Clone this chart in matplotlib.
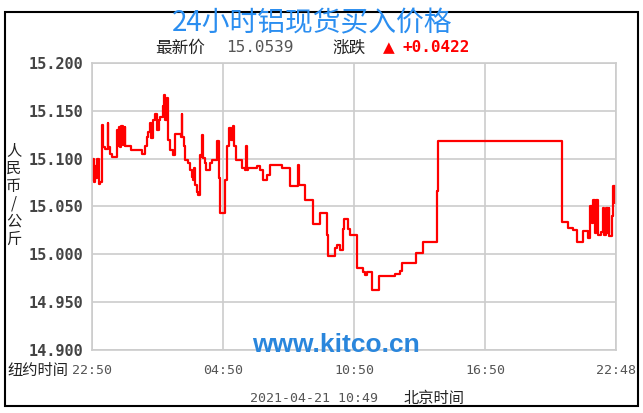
import matplotlib
matplotlib.use("Agg")
import matplotlib.pyplot as plt
from matplotlib.patches import Rectangle

plt.rcParams['font.family'] = ['Noto Sans CJK SC', 'DejaVu Sans']

# hours since 22:50 New York time, and price (yuan / kg)
hours = [0.00, 0.05, 0.10, 0.15, 0.20, 0.25, 0.30, 0.38, 0.44, 0.47,
         0.50, 0.60, 0.72, 0.75, 0.82, 0.92, 1.13, 1.18, 1.22, 1.28,
         1.34, 1.40, 1.50, 1.52, 1.60, 1.80, 2.27, 2.42, 2.50, 2.58,
         2.65, 2.72, 2.80, 2.89, 2.96, 3.05, 3.12, 3.24, 3.30, 3.36,
         3.42, 3.50, 3.55, 3.72, 3.80, 4.08, 4.11, 4.14, 4.20, 4.28,
         4.40, 4.50, 4.56, 4.62, 4.66, 4.70, 4.80, 4.87, 4.94, 5.03,
         5.05, 5.10, 5.17, 5.22, 5.40, 5.50, 5.73, 5.80, 5.84, 6.05,
         6.10, 6.18, 6.28, 6.38, 6.44, 6.50, 6.58, 6.88, 7.03, 7.05,
         7.10, 7.15, 7.55, 7.70, 7.85, 8.03, 8.15, 8.70, 9.07, 9.45,
         9.50, 9.76, 10.14, 10.44, 10.75, 10.82, 11.13, 11.20, 11.36, 11.51,
         11.54, 11.74, 11.82, 12.12, 12.43, 12.50, 12.58, 12.81, 13.16, 13.87,
         14.11, 14.18, 14.84, 15.18, 15.79, 15.86, 21.51, 21.82, 22.05, 22.20,
         22.50, 22.73, 22.80, 22.89, 22.95, 23.04, 23.10, 23.19, 23.30, 23.40,
         23.45, 23.56, 23.62, 23.66, 23.70, 23.80, 23.88, 23.95, 24.00]
prices = [15.078, 15.100, 15.076, 15.092, 15.080, 15.100, 15.074, 15.076, 15.128, 15.135,
          15.112, 15.110, 15.137, 15.112, 15.105, 15.102, 15.130, 15.113, 15.133, 15.112,
          15.134, 15.114, 15.133, 15.113, 15.113, 15.109, 15.105, 15.113, 15.123, 15.128,
          15.137, 15.122, 15.140, 15.147, 15.130, 15.140, 15.144, 15.155, 15.167, 15.140,
          15.163, 15.120, 15.109, 15.104, 15.126, 15.123, 15.147, 15.123, 15.113, 15.099,
          15.095, 15.088, 15.081, 15.078, 15.090, 15.072, 15.065, 15.062, 15.104, 15.102,
          15.125, 15.101, 15.095, 15.088, 15.095, 15.099, 15.118, 15.080, 15.043, 15.043,
          15.078, 15.113, 15.132, 15.120, 15.134, 15.113, 15.099, 15.090, 15.088, 15.113,
          15.088, 15.090, 15.092, 15.088, 15.078, 15.083, 15.093, 15.090, 15.071, 15.093,
          15.072, 15.057, 15.032, 15.043, 15.020, 14.998, 15.007, 15.010, 15.005, 15.027,
          15.037, 15.027, 15.020, 14.986, 14.982, 14.978, 14.982, 14.963, 14.977, 14.979,
          14.983, 14.991, 15.001, 15.013, 15.066, 15.118, 15.034, 15.028, 15.025, 15.013,
          15.024, 15.017, 15.051, 15.033, 15.057, 15.022, 15.057, 15.020, 15.023, 15.048,
          15.020, 15.048, 15.022, 15.048, 15.019, 15.040, 15.071, 15.054, 15.054]

x_ticks = [0, 6, 12, 18, 24]
x_labels = ['22:50', '04:50', '10:50', '16:50', '22:48']
y_ticks = [14.90, 14.95, 15.00, 15.05, 15.10, 15.15, 15.20]
y_labels = ['14.900', '14.950', '15.000', '15.050', '15.100', '15.150', '15.200']

title = '24小时铝现货买入价格'
latest = '15.0539'
change = '+0.0422'

fig = plt.figure(figsize=(6.43, 4.13), dpi=100)
ax = fig.add_axes([92/643, 1-350/413, 524/643, 287/413])

ax.plot(hours, prices, color='#ff0000', linewidth=1.6, drawstyle='steps-post')
ax.set_xlim(0, 24)
ax.set_ylim(14.9, 15.2)
ax.set_xticks(x_ticks)
ax.set_xticklabels(x_labels, family='DejaVu Sans Mono', fontsize=9.5, color='#555555')
ax.set_yticks(y_ticks)
ax.set_yticklabels(y_labels, family='DejaVu Sans Mono', fontsize=11, fontweight='bold', color='#444444')
ax.tick_params(length=0)
ax.tick_params(axis='y', pad=6)
ax.tick_params(axis='x', pad=10)
ax.grid(True, color='#cccccc', linewidth=1.2)
for s in ax.spines.values():
    s.set_color('#cccccc')
    s.set_linewidth(1.2)

# header
fig.text(312/643, 1-23/413, title, ha='center', va='center', fontsize=20, color='#2b8ef0')
fig.text(180/643, 1-48/413, '最新价', ha='center', va='center', fontsize=12, color='#222222')
fig.text(260/643, 1-48/413, latest, ha='center', va='center', fontsize=11.5,
         family='DejaVu Sans Mono', color='#555555')
fig.text(349/643, 1-48/413, '涨跌', ha='center', va='center', fontsize=12, color='#222222')
fig.text(389/643, 1-48/413, '▲', ha='center', va='center', fontsize=11, color='#ff0000',
         family='DejaVu Sans')
fig.text(436/643, 1-48/413, change, ha='center', va='center', fontsize=11.5,
         family='DejaVu Sans Mono', fontweight='bold', color='#ff0000')

# vertical unit label
fig.text(14/643, 1-195/413, '\n'.join('人民币/公斤'), ha='center', va='center',
         fontsize=11, linespacing=1.05, color='#222222')

# bottom labels
fig.text(68/643, 1-371/413, '纽约时间', ha='right', va='center', fontsize=11, color='#222222')
fig.text(314/643, 1-398/413, '2021-04-21 10:49', ha='center', va='center', fontsize=9.5,
         family='DejaVu Sans Mono', color='#555555')
fig.text(434/643, 1-398/413, '北京时间', ha='center', va='center', fontsize=11, color='#222222')

# watermark
fig.text(336/643, 1-345/413, 'www.kitco.cn', ha='center', va='center', fontsize=19,
         family='Liberation Sans', fontweight='bold', color='#2a86dc')

# outer frame
fig.patches.append(Rectangle((5/643, 1-406/413), 633/643, 394/413, transform=fig.transFigure,
                             fill=False, edgecolor='black', linewidth=1.5))

fig.savefig('out.png', dpi=100)
